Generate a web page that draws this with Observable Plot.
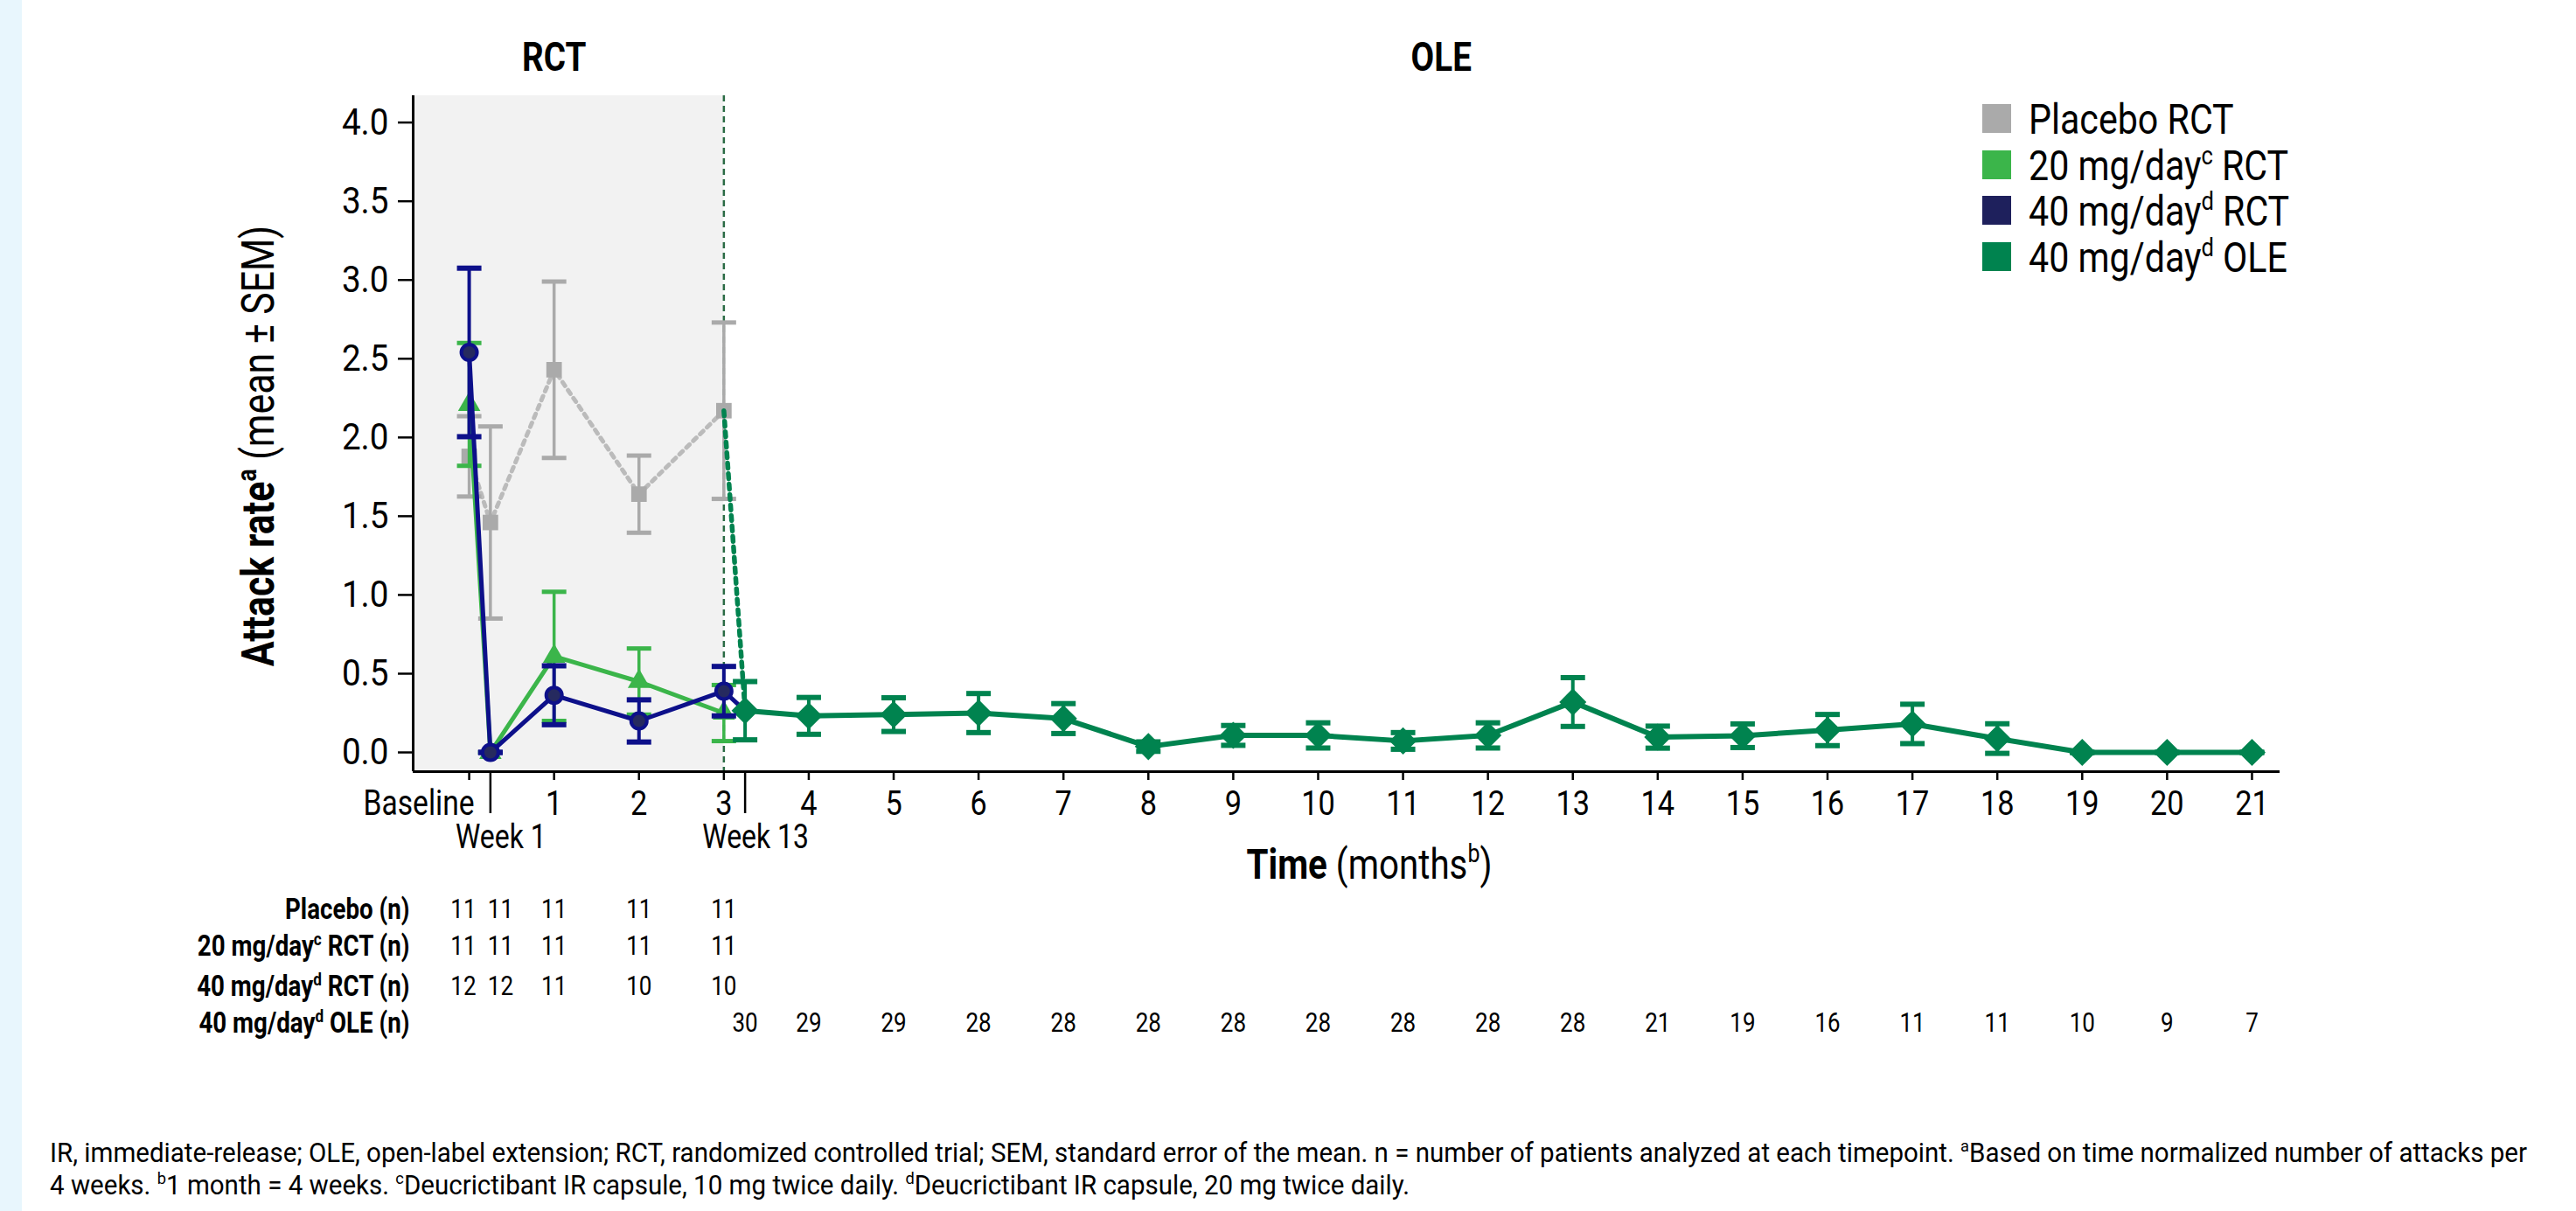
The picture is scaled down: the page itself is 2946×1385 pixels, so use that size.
<!DOCTYPE html>
<html>
<head>
<meta charset="utf-8">
<script src="https://cdn.jsdelivr.net/npm/d3@7"></script>
<script src="https://cdn.jsdelivr.net/npm/@observablehq/plot@0.6"></script>
<style>
  html, body { margin: 0; padding: 0; background: #ffffff; }
  #wrap { position: relative; width: 2946px; height: 1385px; overflow: hidden; font-family: Roboto, "Noto Sans", sans-serif; color: #000; }
  #strip { position: absolute; left: 0; top: 0; width: 25px; height: 1385px; background: #e8f6fd; }
  #chart { position: absolute; left: 0; top: 0; }
  #legend { position: absolute; left: 2267px; top: 119px; }
  .lrow { position: relative; height: 52.7px; }
  .sw { position: absolute; left: 0; top: 0; width: 33px; height: 33px; }
  .lt { position: absolute; left: 53px; top: -7px; font-size: 49px; line-height: 49px; white-space: nowrap; transform: scaleX(0.84); transform-origin: left center; }
  .lt sup, #foot sup { font-size: 62%; vertical-align: 0.6em; line-height: 0; }
  #foot { position: absolute; left: 57px; top: 1300px; font-size: 31px; line-height: 37px; }
  #foot .fl { display: inline-block; white-space: nowrap; transform-origin: left center; }
</style>
</head>
<body>
<div id="wrap">
  <div id="strip"></div>
  <div id="chart"></div>
  <div id="legend"></div>
  <div id="foot"></div>
</div>
<script>
// ---------------- data ----------------
const rctX = [0, 0.25, 1, 2, 3];                       // Baseline, Week 1, months 1-3
const placeboMean = [1.88, 1.46, 2.43, 1.64, 2.17];
const placeboSEM  = [0.255, 0.61, 0.56, 0.245, 0.56];
const mg20Mean    = [2.21, 0, 0.61, 0.45, 0.25];
const mg20SEM     = [0.39, 0, 0.41, 0.21, 0.178];
const mg40Mean    = [2.54, 0, 0.363, 0.20, 0.389];
const mg40SEM     = [0.535, 0, 0.187, 0.134, 0.157];

const oleX    = [3.25, 4, 5, 6, 7, 8, 9, 10, 11, 12, 13, 14, 15, 16, 17, 18, 19, 20, 21];
const oleMean = [0.265, 0.232, 0.24, 0.25, 0.215, 0.037, 0.108, 0.108, 0.073, 0.108, 0.32, 0.097, 0.106, 0.142, 0.181, 0.088, 0, 0, 0];
const oleSEM  = [0.185, 0.117, 0.107, 0.124, 0.095, 0.03, 0.063, 0.08, 0.053, 0.08, 0.155, 0.07, 0.075, 0.099, 0.125, 0.094, 0, 0, 0];

const nPlacebo = [11, 11, 11, 11, 11];
const n20      = [11, 11, 11, 11, 11];
const n40      = [12, 12, 11, 10, 10];
const nOLE     = [30, 29, 29, 28, 28, 28, 28, 28, 28, 28, 28, 21, 19, 16, 11, 11, 10, 9, 7];

const monthTicks = [0, 1, 2, 3, 4, 5, 6, 7, 8, 9, 10, 11, 12, 13, 14, 15, 16, 17, 18, 19, 20, 21];
const weekTicks = [0.25, 3.25];
const yTicks = [0, 0.5, 1, 1.5, 2, 2.5, 3, 3.5, 4];
const baselineLabel = [{x: 0, label: "Baseline"}];
const weekLabels = [{x: 0.25, label: "Week 1"}, {x: 3.25, label: "Week 13"}];
const headers = [{x: 1, label: "RCT"}, {x: 11.45, label: "OLE"}];
const rctEnd = 3;

const tableRowLabels = ["Placebo (n)", "20 mg/day^c RCT (n)", "40 mg/day^d RCT (n)", "40 mg/day^d OLE (n)"];
const legendLabels = ["Placebo RCT", "20 mg/day<sup>c</sup> RCT", "40 mg/day<sup>d</sup> RCT", "40 mg/day<sup>d</sup> OLE"];
const xTitle = "*Time* (months^b)";
const yTitle = "*Attack rate^a* (mean ± SEM)";
const footLines = [
  "IR, immediate-release; OLE, open-label extension; RCT, randomized controlled trial; SEM, standard error of the mean. n = number of patients analyzed at each timepoint. <sup>a</sup>Based on time normalized number of attacks per",
  "4 weeks. <sup>b</sup>1 month = 4 weeks. <sup>c</sup>Deucrictibant IR capsule, 10 mg twice daily. <sup>d</sup>Deucrictibant IR capsule, 20 mg twice daily."
];

// ---------------- styles ----------------
const C = {
  gray: "#aaaaaa", grayLine: "#bbbbbb",
  green: "#3bb54a",
  navy: "#0d108a", navyFill: "#262a5f", navySwatch: "#1e205c",
  ole: "#00834f",
  band: "#f2f2f2", vline: "#2b6b45"
};
const legendColors = [C.gray, C.green, C.navySwatch, C.ole];

// ---------------- tables ----------------
const mk = (xs, means, sems) => xs.map((x, i) => ({x, mean: means[i], sem: sems[i]}));
const placebo = mk(rctX, placeboMean, placeboSEM);
const mg20 = mk(rctX, mg20Mean, mg20SEM);
const mg40 = mk(rctX, mg40Mean, mg40SEM);
const ole = mk(oleX, oleMean, oleSEM);
const placeboToOle = [placebo[placebo.length - 1], ole[0]];
const mg40ToOle = [mg40[mg40.length - 1], ole[0]];
const nRows = [
  rctX.map((x, i) => ({x, n: nPlacebo[i]})),
  rctX.map((x, i) => ({x, n: n20[i]})),
  rctX.map((x, i) => ({x, n: n40[i]})),
  oleX.map((x, i) => ({x, n: nOLE[i]}))
];

const xDomain = [-0.66, 21.33];
const yDomain = [-0.122, 4.17];
const rctBand = [{x1: xDomain[0], x2: rctEnd, y1: yDomain[0], y2: yDomain[1]}];

const capSymbol = { draw(ctx) { ctx.moveTo(-14, 0); ctx.lineTo(14, 0); } };

function errorBars(data, color, w, capW) {
  return [
    Plot.ruleX(data, {x: "x", y1: d => d.mean - d.sem, y2: d => d.mean + d.sem, stroke: color, strokeWidth: w}),
    Plot.dot(data, {x: "x", y: d => d.mean + d.sem, symbol: capSymbol, fill: "none", stroke: color, strokeWidth: capW}),
    Plot.dot(data, {x: "x", y: d => d.mean - d.sem, symbol: capSymbol, fill: "none", stroke: color, strokeWidth: capW})
  ];
}

const rowDy = [158, 200, 246, 288];
const tableMarks = [];
nRows.forEach((row, r) => {
  // baseline column sits left of its tick, week-1 column right of its tick (as in the printed table)
  tableMarks.push(Plot.text(row.filter(d => d.x === 0), {x: "x", text: "n", frameAnchor: "bottom", lineAnchor: "middle", textAnchor: "end", dx: 8, dy: rowDy[r], fontSize: 31}));
  tableMarks.push(Plot.text(row.filter(d => d.x === 0.25), {x: "x", text: "n", frameAnchor: "bottom", lineAnchor: "middle", textAnchor: "start", dx: -3, dy: rowDy[r], fontSize: 31}));
  tableMarks.push(Plot.text(row.filter(d => d.x !== 0 && d.x !== 0.25), {x: "x", text: "n", frameAnchor: "bottom", lineAnchor: "middle", dy: rowDy[r], fontSize: 31}));
  tableMarks.push(Plot.text([tableRowLabels[r]], {text: d => d, frameAnchor: "bottom-left", textAnchor: "end", lineAnchor: "middle", dx: -4, dy: rowDy[r], fontSize: 33, fontWeight: "bold", ariaLabel: "rowlabel"}));
});

const W = 2946, H = 1250;
const plot = Plot.plot({
  width: W, height: H,
  marginLeft: 472, marginRight: 339, marginTop: 109, marginBottom: H - 882,
  x: {domain: xDomain, label: null},
  y: {domain: yDomain, label: null},
  style: {fontFamily: "Roboto, 'Noto Sans', sans-serif", fontSize: "38px", color: "#000", background: "transparent", overflow: "visible"},
  marks: [
    Plot.rect(rctBand, {x1: "x1", x2: "x2", y1: "y1", y2: "y2", fill: C.band}),
    Plot.ruleX([rctEnd], {stroke: C.vline, strokeWidth: 2.5, strokeDasharray: "7,5"}),

    // Placebo RCT
    Plot.line(placebo, {x: "x", y: "mean", stroke: C.grayLine, strokeWidth: 5, strokeDasharray: "5,6"}),
    ...errorBars(placebo, C.gray, 3.5, 5),
    Plot.dot(placebo, {x: "x", y: "mean", symbol: "square", r: 10, fill: C.gray}),

    // 20 mg/day RCT
    Plot.line(mg20, {x: "x", y: "mean", stroke: C.green, strokeWidth: 5}),
    ...errorBars(mg20, C.green, 3.5, 5),
    Plot.dot(mg20, {x: "x", y: "mean", symbol: "triangle", r: 9.5, fill: C.green}),

    // 40 mg/day RCT line (incl. link to OLE)
    Plot.line(mg40, {x: "x", y: "mean", stroke: C.navy, strokeWidth: 5}),
    Plot.line(mg40ToOle, {x: "x", y: "mean", stroke: C.navy, strokeWidth: 5}),

    // OLE
    Plot.line(placeboToOle, {x: "x", y: "mean", stroke: C.ole, strokeWidth: 5.5, strokeDasharray: "6,6"}),
    Plot.line(ole, {x: "x", y: "mean", stroke: C.ole, strokeWidth: 6}),
    ...errorBars(ole, C.ole, 4, 6),
    Plot.dot(ole, {x: "x", y: "mean", symbol: "diamond2", r: 14, fill: C.ole}),

    // 40 mg/day RCT bars and markers
    ...errorBars(mg40, C.navy, 4, 6),
    Plot.dot(mg40, {x: "x", y: "mean", symbol: "circle", r: 9, fill: C.navyFill, stroke: C.navy, strokeWidth: 4}),

    // axes
    Plot.ruleX([xDomain[0]], {stroke: "#000", strokeWidth: 3}),
    Plot.ruleY([yDomain[0]], {stroke: "#000", strokeWidth: 3}),
    Plot.axisY({ticks: yTicks, tickFormat: d3.format(".1f"), tickSize: 17, tickPadding: 11, fontSize: 42, strokeWidth: 2.5, label: null}),
    Plot.axisX({ticks: monthTicks, tickSize: 10, tickPadding: 12, tickFormat: d => d === 0 ? "" : String(d), fontSize: 39, strokeWidth: 2.5, label: null}),
    Plot.axisX({ticks: weekTicks, tickSize: 48, tickFormat: () => "", strokeWidth: 2.5, label: null}),
    Plot.text(baselineLabel, {x: "x", text: "label", frameAnchor: "bottom", textAnchor: "end", lineAnchor: "top", dx: 6, dy: 21, fontSize: 40, ariaLabel: "xwords"}),
    Plot.text(weekLabels, {x: "x", text: "label", frameAnchor: "bottom", textAnchor: "middle", lineAnchor: "top", dx: 12, dy: 61, fontSize: 38, ariaLabel: "xwords"}),
    Plot.text([xTitle], {text: d => d, frameAnchor: "bottom", textAnchor: "middle", lineAnchor: "bottom", dx: 26, dy: 122, fontSize: 48}),
    Plot.text([yTitle], {text: d => d, frameAnchor: "left", textAnchor: "middle", rotate: -90, lineAnchor: "middle", dx: -176, dy: 14, fontSize: 51, ariaLabel: "ytitle"}),
    Plot.text(headers, {x: "x", text: "label", frameAnchor: "top", textAnchor: "middle", lineAnchor: "bottom", dy: -29, fontSize: 46, fontWeight: "bold", ariaLabel: "headers"}),

    ...tableMarks
  ]
});
document.getElementById("chart").appendChild(plot);

// ---------------- rich text (bold / superscript) ----------------
const NS = "http://www.w3.org/2000/svg";
function richify(t) {
  const s = t.textContent;
  if (!/[\^*]/.test(s)) return;
  const F = parseFloat(getComputedStyle(t).fontSize) || 38;
  while (t.firstChild) t.removeChild(t.firstChild);
  let bold = false, buf = "", pend = 0;
  const add = (str, sup) => {
    const ts = document.createElementNS(NS, "tspan");
    ts.textContent = str;
    if (bold) ts.setAttribute("font-weight", "bold");
    if (sup) { ts.setAttribute("font-size", 0.62 * F); ts.setAttribute("dy", -0.38 * F); pend = 0.38 * F; }
    else if (pend) { ts.setAttribute("dy", pend); pend = 0; }
    t.appendChild(ts);
  };
  for (let i = 0; i < s.length; i++) {
    const c = s[i];
    if (c === "*") { if (buf) add(buf); buf = ""; bold = !bold; }
    else if (c === "^") { if (buf) add(buf); buf = ""; add(s[++i], true); }
    else buf += c;
  }
  if (buf) add(buf);
}
plot.querySelectorAll("text").forEach(richify);

// ---------------- condensed lettering ----------------
const kMap = {"ytitle": 1, "rowlabel": 0.92, "y-axis tick label": 0.92, "x-axis tick label": 0.88, "xwords": 0.88, "headers": 0.86};
plot.querySelectorAll("text").forEach(t => {
  const g = t.closest("g[aria-label]");
  const lab = g ? g.getAttribute("aria-label") : "";
  const k = (lab in kMap) ? kMap[lab] : 0.84;
  if (k === 1) return;
  const x = +t.getAttribute("x") || 0, y = +t.getAttribute("y") || 0;
  let tr = t.getAttribute("transform") || "";
  if (x || y) { tr += ` translate(${x},${y})`; t.removeAttribute("x"); t.removeAttribute("y"); }
  t.setAttribute("transform", (tr + ` scale(${k},1)`).trim());
});

// ---------------- legend ----------------
const legend = document.getElementById("legend");
legendLabels.forEach((lab, i) => {
  const row = document.createElement("div");
  row.className = "lrow";
  row.innerHTML = `<div class="sw" style="background:${legendColors[i]}"></div><div class="lt">${lab}</div>`;
  legend.appendChild(row);
});

// ---------------- footnote ----------------
const foot = document.getElementById("foot");
footLines.forEach(l => {
  const d = document.createElement("div");
  d.innerHTML = `<span class="fl">${l}</span>`;
  foot.appendChild(d);
});
const fl = foot.querySelectorAll(".fl");
const natural = fl[0].getBoundingClientRect().width;
const kf = 2833 / natural;
fl.forEach(s => s.style.transform = `scaleX(${kf})`);
</script>
</body>
</html>
